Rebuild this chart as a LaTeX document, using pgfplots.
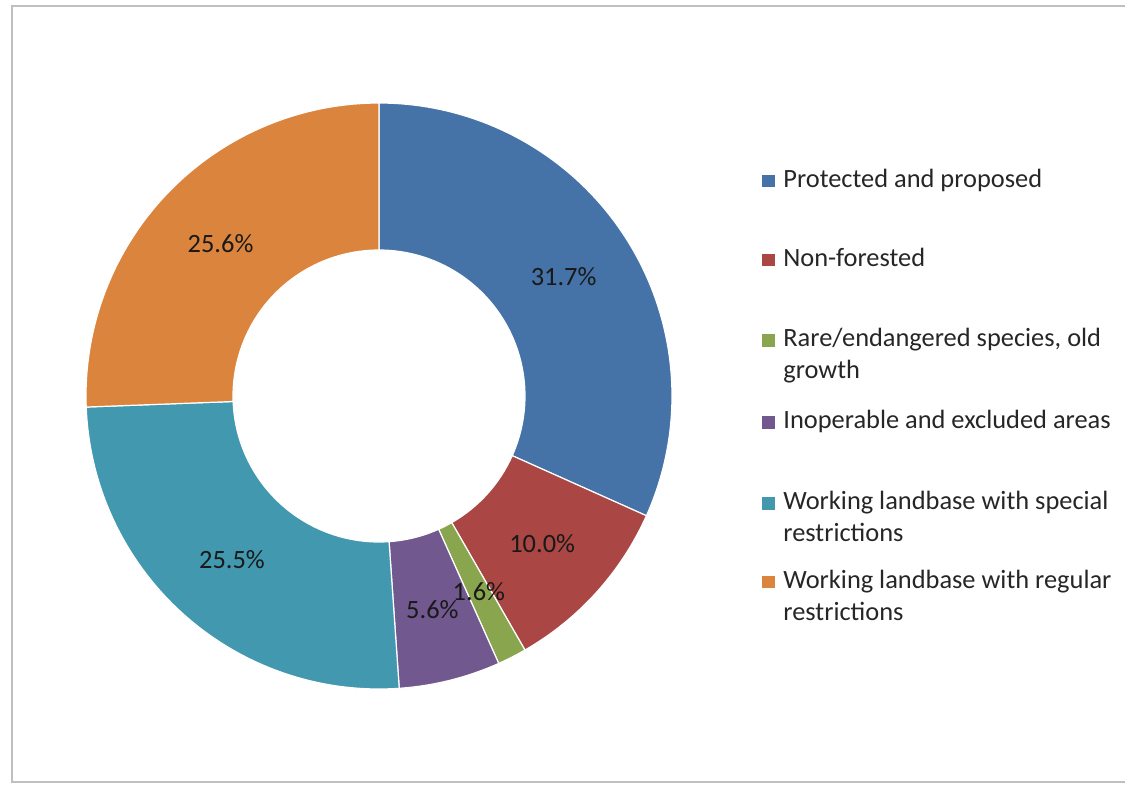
\documentclass[border=0pt]{standalone}
\usepackage{pgfplots}
\usepackage{pgfplotstable}
\pgfplotsset{compat=1.18}
\usepackage{fontspec}
\setmainfont{Carlito}
\definecolor{cA}{HTML}{4572A7}
\definecolor{cB}{HTML}{AA4643}
\definecolor{cC}{HTML}{89A54E}
\definecolor{cD}{HTML}{71588F}
\definecolor{cE}{HTML}{4198AF}
\definecolor{cF}{HTML}{DB843D}
\definecolor{frame}{HTML}{BFBFBF}
\newcommand\lblfont{\fontsize{13.2}{16}\selectfont}

\pgfplotstableread[col sep=comma]{
value,colour
31.7,cA
10.0,cB
1.6,cC
5.6,cD
25.5,cE
25.6,cF
}\donut

\def\cx{189.5}
\def\cy{194}
\def\Ro{146.5pt}
\def\Ri{73pt}
\def\Rl{110pt}

\begin{document}
\begin{tikzpicture}
\begin{axis}[
  x=1pt, y=1pt,
  xmin=0, xmax=562.5, ymin=0, ymax=392,
  hide axis, clip=false,
]
% frame
\draw[frame, line width=1pt] (axis cs:563,389) -- (axis cs:5.75,389) -- (axis cs:5.75,1) -- (axis cs:563,1);
% donut wedges
\def\cum{0}
\pgfplotsforeachungrouped \i in {0,...,5} {
  \pgfplotstablegetelem{\i}{value}\of\donut \let\v\pgfplotsretval
  \pgfplotstablegetelem{\i}{colour}\of\donut \let\c\pgfplotsretval
  \pgfmathsetmacro\sa{90-3.6*\cum}
  \pgfmathsetmacro\ea{90-3.6*(\cum+\v)}
  \edef\cmd{%
    \noexpand\filldraw[fill=\c, draw=white, line width=0.6pt]
      ([shift={(\sa:\Ro)}]axis cs:\cx,\cy) arc[start angle=\sa, end angle=\ea, radius=\Ro]
      -- ([shift={(\ea:\Ri)}]axis cs:\cx,\cy) arc[start angle=\ea, end angle=\sa, radius=\Ri] -- cycle;
  }
  \cmd
  \pgfmathsetmacro\cum{\cum+\v}
}
\def\cum{0}
\pgfplotsforeachungrouped \i in {0,...,5} {
  \pgfplotstablegetelem{\i}{value}\of\donut \let\v\pgfplotsretval
  \pgfmathsetmacro\ma{90-3.6*(\cum+\v/2)}
  \edef\cmd{%
    \noexpand\node[font=\noexpand\lblfont, text=black!90, inner sep=0pt]
      at ([shift={(\ma:\Rl)}]axis cs:\cx,\cy) {\v\noexpand\%};
  }
  \cmd
  \pgfmathsetmacro\cum{\cum+\v}
}
% legend
\begin{scope}[every node/.style={anchor=base west, inner sep=0pt, font=\lblfont, text=black!85}]
\node at (axis cs:381,298.5) {\textcolor{cA}{\rule{6.25pt}{6.25pt}}\hspace{4.25pt}Protected and proposed};
\node at (axis cs:381,259) {\textcolor{cB}{\rule{6.25pt}{6.25pt}}\hspace{4.25pt}Non-forested};
\node at (axis cs:381,218.75) {\textcolor{cC}{\rule{6.25pt}{6.25pt}}\hspace{4.25pt}Rare/endangered species, old};
\node at (axis cs:391.5,202.75) {growth};
\node at (axis cs:381,177.75) {\textcolor{cD}{\rule{6.25pt}{6.25pt}}\hspace{4.25pt}Inoperable and excluded areas};
\node at (axis cs:381,137.25) {\textcolor{cE}{\rule{6.25pt}{6.25pt}}\hspace{4.25pt}Working landbase with special};
\node at (axis cs:391.5,121.25) {restrictions};
\node at (axis cs:381,98) {\textcolor{cF}{\rule{6.25pt}{6.25pt}}\hspace{4.25pt}Working landbase with regular};
\node at (axis cs:391.5,82) {restrictions};
\end{scope}
\end{axis}
\pgfresetboundingbox
\useasboundingbox (current axis.south west) rectangle (current axis.north east);
\end{tikzpicture}
\end{document}
